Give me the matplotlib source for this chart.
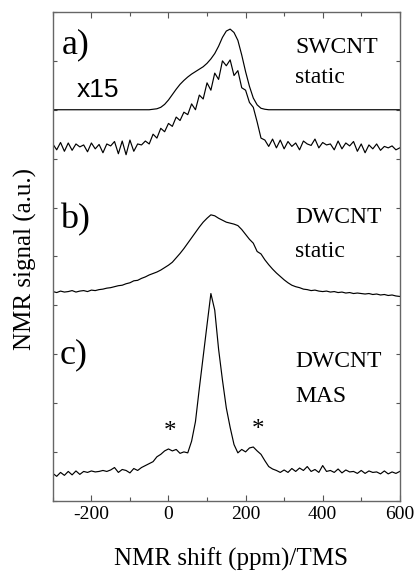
import numpy as np
import matplotlib
matplotlib.use("Agg")
import matplotlib.pyplot as plt
from matplotlib.ticker import MultipleLocator

plt.rcParams['font.family'] = ['Liberation Serif', 'DejaVu Serif']
plt.rcParams['axes.unicode_minus'] = False

# Chemical shift grid (ppm), 10 ppm steps from -300 to 600
ppm = np.arange(-300, 601, 10)

# a) SWCNT static: experimental (noisy) spectrum
swcnt_exp = [
    7.30, 7.18, 7.33, 7.15, 7.32, 7.17, 7.30, 7.24, 7.28, 7.14,   # -300..-210
    7.32, 7.20, 7.29, 7.12, 7.30, 7.26, 7.35, 7.10, 7.36, 7.08,   # -200..-110
    7.38, 7.15, 7.30, 7.28, 7.36, 7.30, 7.50, 7.42, 7.62, 7.55,   # -100..-10
    7.72, 7.66, 7.85, 7.78, 7.95, 7.90, 8.12, 8.00, 8.30, 8.22,   # 0..90
    8.55, 8.40, 8.75, 8.62, 9.00, 8.90, 9.02, 8.70, 8.80, 8.45,   # 100..190
    8.40, 8.15, 8.05, 7.75, 7.42, 7.38, 7.25, 7.40, 7.22, 7.38,   # 200..290
    7.20, 7.35, 7.25, 7.32, 7.18, 7.36, 7.30, 7.27, 7.40, 7.22,   # 300..390
    7.33, 7.28, 7.30, 7.18, 7.36, 7.20, 7.32, 7.26, 7.35, 7.15,   # 400..490
    7.30, 7.12, 7.28, 7.20, 7.30, 7.17, 7.25, 7.22, 7.26, 7.18,   # 500..590
    7.22,                                                         # 600
]

# a) SWCNT static: simulated line shape
swcnt_fit = [
    8.00, 8.00, 8.00, 8.00, 8.00, 8.00, 8.00, 8.00, 8.00, 8.00,
    8.00, 8.00, 8.00, 8.00, 8.00, 8.00, 8.00, 8.00, 8.00, 8.00,
    8.00, 8.00, 8.00, 8.00, 8.00, 8.00, 8.01, 8.02, 8.05, 8.11,
    8.20, 8.31, 8.42, 8.52, 8.60, 8.67, 8.73, 8.78, 8.83, 8.88,
    8.95, 9.04, 9.15, 9.30, 9.48, 9.61, 9.65, 9.58, 9.42, 9.12,
    8.78, 8.48, 8.24, 8.10, 8.03, 8.01, 8.00, 8.00, 8.00, 8.00,
    8.00, 8.00, 8.00, 8.00, 8.00, 8.00, 8.00, 8.00, 8.00, 8.00,
    8.00, 8.00, 8.00, 8.00, 8.00, 8.00, 8.00, 8.00, 8.00, 8.00,
    8.00, 8.00, 8.00, 8.00, 8.00, 8.00, 8.00, 8.00, 8.00, 8.00,
    8.00,
]

# b) DWCNT static
dw_static = [
    4.28, 4.26, 4.29, 4.27, 4.28, 4.30, 4.27, 4.29, 4.30, 4.28,
    4.31, 4.30, 4.32, 4.33, 4.35, 4.36, 4.38, 4.40, 4.41, 4.44,
    4.46, 4.50, 4.51, 4.55, 4.58, 4.62, 4.65, 4.68, 4.72, 4.77,
    4.82, 4.88, 4.97, 5.06, 5.16, 5.27, 5.38, 5.49, 5.60, 5.70,
    5.78, 5.85, 5.83, 5.78, 5.74, 5.70, 5.68, 5.66, 5.63, 5.55,
    5.45, 5.35, 5.27, 5.10, 5.05, 4.93, 4.83, 4.74, 4.66, 4.59,
    4.52, 4.46, 4.41, 4.38, 4.36, 4.33, 4.32, 4.30, 4.31, 4.29,
    4.28, 4.29, 4.27, 4.28, 4.26, 4.27, 4.25, 4.26, 4.24, 4.25,
    4.24, 4.23, 4.24, 4.22, 4.23, 4.21, 4.22, 4.20, 4.21, 4.19,
    4.18,
]

# c) DWCNT MAS
dw_mas = [
    0.56, 0.50, 0.58, 0.52, 0.60, 0.53, 0.61, 0.54, 0.60, 0.58,
    0.61, 0.59, 0.60, 0.62, 0.60, 0.63, 0.68, 0.58, 0.64, 0.62,
    0.57, 0.66, 0.62, 0.68, 0.72, 0.76, 0.80, 0.90, 0.95, 1.02,
    1.06, 1.02, 1.05, 0.97, 1.00, 0.98, 1.22, 1.62, 2.30, 2.95,
    3.60, 4.24, 3.90, 3.10, 2.47, 1.90, 1.50, 1.15, 0.98, 1.05,
    1.00, 1.08, 1.10, 1.02, 0.95, 0.82, 0.70, 0.65, 0.62, 0.58,
    0.63, 0.58, 0.66, 0.60, 0.67, 0.62, 0.70, 0.60, 0.64, 0.58,
    0.72, 0.60, 0.62, 0.58, 0.65, 0.57, 0.63, 0.59, 0.60, 0.56,
    0.62, 0.56, 0.61, 0.58, 0.59, 0.55, 0.61, 0.55, 0.59, 0.56,
    0.60,
]

fig = plt.figure(figsize=(4.16, 5.71), dpi=100)
ax = fig.add_axes([0.127, 0.123, 0.834, 0.856])

lw = 0.85
ax.plot(ppm, swcnt_fit, color="black", lw=lw)
ax.plot(ppm, swcnt_exp, color="black", lw=lw)
ax.plot(ppm, dw_static, color="black", lw=lw)
ax.plot(ppm, dw_mas, color="black", lw=lw)

ax.set_xlim(-300, 600)
ax.set_ylim(0, 10)

# Ticks: inward, all four sides, no y labels
ax.xaxis.set_major_locator(MultipleLocator(200))
ax.xaxis.set_minor_locator(MultipleLocator(100))
ax.yaxis.set_major_locator(MultipleLocator(1))
ax.tick_params(axis="both", which="both", direction="in",
               top=True, right=True, color="#555555", width=0.8)
ax.tick_params(axis="x", which="major", length=4, pad=4, labelsize=14)
ax.tick_params(axis="x", which="minor", length=3)
ax.tick_params(axis="y", which="major", length=3, labelleft=False)
for spine in ax.spines.values():
    spine.set_color("#666666")
    spine.set_linewidth(1.0)

# Axis labels
fig.text(231 / 416, 1 - 559 / 571, "NMR shift (ppm)/TMS",
         fontsize=18, ha="center", va="center")
fig.text(25 / 416, 1 - 259 / 571, "NMR signal (a.u.)",
         fontsize=18, ha="center", va="center", rotation=90)

# Panel annotations (baseline-anchored)
ax.text(-278, 9.16, "a)", fontsize=26, ha="left", va="baseline")
ax.text(-238, 8.27, "x15", family="Liberation Sans", fontsize=19,
        ha="left", va="baseline")
ax.text(328, 9.16, "SWCNT", fontsize=17, ha="left", va="baseline")
ax.text(328, 8.55, "static", fontsize=17, ha="left", va="baseline")

ax.text(-282, 5.58, "b)", fontsize=26, ha="left", va="baseline")
ax.text(328, 5.69, "DWCNT", fontsize=17, ha="left", va="baseline")
ax.text(328, 4.99, "static", fontsize=17, ha="left", va="baseline")

ax.text(-282, 2.82, "c)", fontsize=26, ha="left", va="baseline")
ax.text(328, 2.74, "DWCNT", fontsize=17, ha="left", va="baseline")
ax.text(328, 2.02, "MAS", fontsize=17, ha="left", va="baseline")

ax.text(3, 1.40, "*", fontsize=18, ha="center", va="center")
ax.text(232, 1.44, "*", fontsize=18, ha="center", va="center")

fig.savefig("out.png", dpi=100)
